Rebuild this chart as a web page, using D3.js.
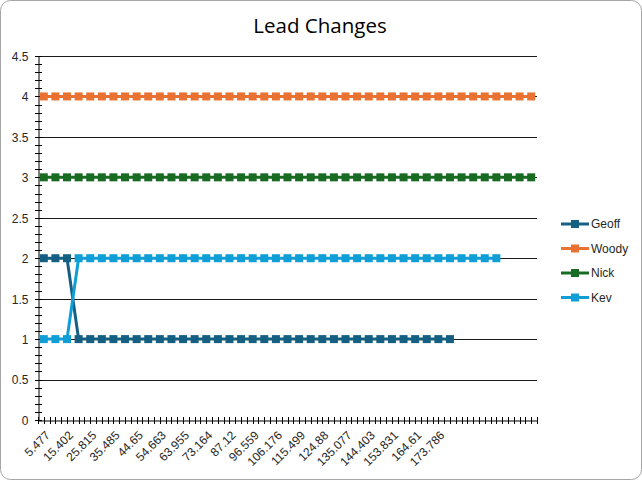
<!DOCTYPE html>
<html>
<head>
<meta charset="utf-8">
<script src="https://cdn.jsdelivr.net/npm/d3@7"></script>
<style>
  html, body { margin: 0; padding: 0; background: #fff; }
  svg { display: block; }
</style>
</head>
<body>
<svg id="chart" width="642" height="480"></svg>
<script>
// ---- Data ----
// Category labels (every second one is shown; hidden ones are estimates; last categories are blank)
const categories = [
  "5.477", "10.5", "15.402", "20.6", "25.815", "30.7", "35.485", "40.1", "44.65", "49.7",
  "54.663", "59.3", "63.955", "68.6", "73.164", "80.1", "87.12", "91.8", "96.559", "101.4",
  "106.176", "110.8", "115.499", "120.2", "124.88", "130.0", "135.077", "139.7", "144.403", "149.1",
  "153.831", "159.2", "164.61", "169.2", "173.786", "", "", "", "", "",
  "", "", ""
];
const seriesNames = ["Geoff", "Woody", "Nick", "Kev"];
const seriesColors = ["#156082", "#E97132", "#196B24", "#0F9ED5"];
const geoff = [2, 2, 2, 1, 1, 1, 1, 1, 1, 1, 1, 1, 1, 1, 1, 1, 1, 1, 1, 1,
               1, 1, 1, 1, 1, 1, 1, 1, 1, 1, 1, 1, 1, 1, 1, 1];
const woody = [4, 4, 4, 4, 4, 4, 4, 4, 4, 4, 4, 4, 4, 4, 4, 4, 4, 4, 4, 4,
               4, 4, 4, 4, 4, 4, 4, 4, 4, 4, 4, 4, 4, 4, 4, 4, 4, 4, 4, 4, 4, 4, 4];
const nick  = [3, 3, 3, 3, 3, 3, 3, 3, 3, 3, 3, 3, 3, 3, 3, 3, 3, 3, 3, 3,
               3, 3, 3, 3, 3, 3, 3, 3, 3, 3, 3, 3, 3, 3, 3, 3, 3, 3, 3, 3, 3, 3, 3];
const kev   = [1, 1, 1, 2, 2, 2, 2, 2, 2, 2, 2, 2, 2, 2, 2, 2, 2, 2, 2, 2,
               2, 2, 2, 2, 2, 2, 2, 2, 2, 2, 2, 2, 2, 2, 2, 2, 2, 2, 2, 2];
const yTicks = [0, 0.5, 1, 1.5, 2, 2.5, 3, 3.5, 4, 4.5];
const title = "Lead Changes";

// ---- Layout ----
const svg = d3.select("#chart");
const W = 642, H = 480;
const plot = { left: 38, right: 537, top: 56, bottom: 420 };
const font = "'Liberation Sans', Arial, sans-serif";
const textColor = "#262626";

// outer border
svg.append("rect")
  .attr("x", 0.5).attr("y", 0.5)
  .attr("width", W - 1).attr("height", H - 1)
  .attr("rx", 10).attr("ry", 10)
  .attr("fill", "#fff").attr("stroke", "#a6a6a6").attr("stroke-width", 1);

// title
svg.append("text")
  .attr("x", 320).attr("y", 33)
  .attr("text-anchor", "middle")
  .attr("font-family", "'Open Sans', 'Noto Sans', sans-serif")
  .attr("font-size", 20.5)
  .attr("fill", "#000")
  .text(title);

const idx = d3.range(categories.length);
const x = d3.scaleBand().domain(idx).range([plot.left, plot.right]).paddingInner(0).paddingOuter(0);
const y = d3.scaleLinear().domain([0, 4.5]).range([plot.bottom, plot.top]);
const cx = i => x(i) + x.bandwidth() / 2;

// gridlines
svg.append("g").selectAll("line")
  .data(yTicks.filter(t => t > 0))
  .join("line")
  .attr("x1", plot.left).attr("x2", plot.right)
  .attr("y1", d => Math.round(y(d)) + 0.5).attr("y2", d => Math.round(y(d)) + 0.5)
  .attr("stroke", "#1a1a1a").attr("stroke-width", 1);

// Y axis
const yAxis = d3.axisLeft(y).tickValues(yTicks).tickFormat(d3.format("")).tickSize(0).tickPadding(10);
const gy = svg.append("g").attr("transform", `translate(${plot.left + 0.5},0.5)`).call(yAxis);
gy.select(".domain").attr("stroke", "#000");
gy.selectAll("text").attr("font-family", font).attr("font-size", 12).attr("fill", textColor);
// cross tick marks (minor 0.1)
const yMinor = d3.range(0, 46).map(v => v / 10);
svg.append("g").selectAll("line").data(yMinor).join("line")
  .attr("x1", plot.left - 3).attr("x2", plot.left + 4)
  .attr("y1", d => Math.round(y(d)) + 0.5).attr("y2", d => Math.round(y(d)) + 0.5)
  .attr("stroke", "#000").attr("stroke-width", 1);

// X axis (line only; labels drawn below, rotated)
const xAxis = d3.axisBottom(x).tickSize(0).tickFormat(() => "");
const gx = svg.append("g").attr("transform", `translate(0,${plot.bottom + 0.5})`).call(xAxis);
gx.select(".domain").attr("stroke", "#000");
svg.append("g").selectAll("text")
  .data(idx.filter(i => i % 2 === 0 && categories[i] !== ""))
  .join("text")
  .attr("transform", i => `translate(${cx(i) + 4},${plot.bottom + 13}) rotate(-45)`)
  .attr("text-anchor", "end")
  .attr("dy", "0.35em")
  .attr("font-family", font).attr("font-size", 12).attr("fill", textColor)
  .text(i => categories[i]);
// cross ticks at category edges and centers
const xTickPos = d3.range(categories.length * 2 + 1).map(k => plot.left + k * x.bandwidth() / 2);
svg.append("g").selectAll("line").data(xTickPos).join("line")
  .attr("x1", d => Math.round(d) + 0.5).attr("x2", d => Math.round(d) + 0.5)
  .attr("y1", plot.bottom - 3).attr("y2", plot.bottom + 4)
  .attr("stroke", "#000").attr("stroke-width", 1);

// series
const allSeries = [geoff, woody, nick, kev];
const line = d3.line().x((d, i) => cx(i)).y(d => y(d));
const ms = 8;
allSeries.forEach((vals, s) => {
  const g = svg.append("g");
  g.append("path").datum(vals)
    .attr("d", line).attr("fill", "none")
    .attr("stroke", seriesColors[s]).attr("stroke-width", 3)
    .attr("stroke-linejoin", "round");
  g.selectAll("rect").data(vals).join("rect")
    .attr("x", (d, i) => cx(i) - ms / 2).attr("y", d => y(d) - ms / 2)
    .attr("width", ms).attr("height", ms)
    .attr("fill", seriesColors[s]);
});

// legend
const lg = svg.append("g");
seriesNames.forEach((name, s) => {
  const ly = 224 + s * 24.5;
  lg.append("line").attr("x1", 561).attr("x2", 589).attr("y1", ly).attr("y2", ly)
    .attr("stroke", seriesColors[s]).attr("stroke-width", 3);
  lg.append("rect").attr("x", 575 - ms / 2).attr("y", ly - ms / 2).attr("width", ms).attr("height", ms)
    .attr("fill", seriesColors[s]);
  lg.append("text").attr("x", 591).attr("y", ly).attr("dy", "0.35em")
    .attr("font-family", font).attr("font-size", 12).attr("fill", textColor).text(name);
});
</script>
</body>
</html>
